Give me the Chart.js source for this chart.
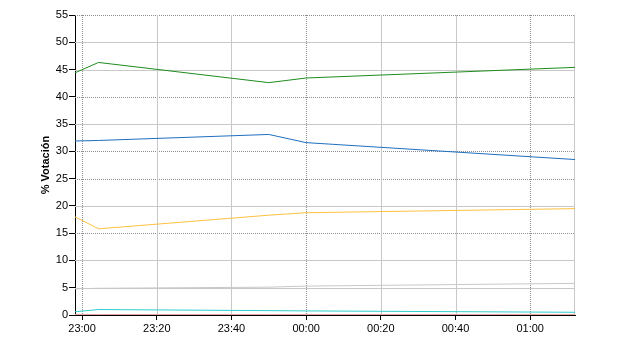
<!DOCTYPE html>
<html>
<head>
<meta charset="utf-8">
<script src="https://cdn.jsdelivr.net/npm/chart.js@4/dist/chart.umd.min.js"></script>
<style>
html,body{margin:0;padding:0;background:#fff;}
#wrap{width:640px;height:350px;position:relative;}
</style>
</head>
<body>
<div id="wrap"><canvas id="c" width="640" height="350"></canvas></div>
<script>
// Minutes after 23:00
const times = [-1.9, 4.4, 50, 60, 132];
const green  = [44.4, 46.3, 42.6, 43.45, 45.4];
const blue   = [31.9, 32.0, 33.1, 31.6, 28.5];
const yellow = [18.0, 15.8, 18.3, 18.75, 19.5];
const gray   = [4.8, 4.9, 5.1, 5.3, 5.8];
const cyan   = [0.6, 1.0, 0.8, 0.75, 0.5];
const red    = [0.1, 0.1, 0.1, 0.1, 0.1];

const xTickValues = [0, 20, 40, 60, 80, 100, 120];
const xTickLabels = ['23:00', '23:20', '23:40', '00:00', '00:20', '00:40', '01:00'];
const yTickValues = [0, 5, 10, 15, 20, 25, 30, 35, 40, 45, 50, 55];

const dottedX = [0, 60, 120];
const dottedY = [55, 40, 30, 25, 15];

function pts(vals) { return vals.map((v, i) => ({ x: times[i], y: v })); }

const gridPlugin = {
  id: 'customGrid',
  beforeDatasetsDraw(chart) {
    const ctx = chart.ctx, a = chart.chartArea;
    const xs = chart.scales.x, ys = chart.scales.y;
    ctx.save();
    ctx.lineWidth = 1;
    yTickValues.forEach(v => {
      if (v === 0) return;
      const y = Math.round(ys.getPixelForValue(v)) + 0.5;
      const dotted = dottedY.includes(v);
      ctx.strokeStyle = dotted ? '#8c8c8c' : '#c8c8c8';
      ctx.setLineDash(dotted ? [1, 1] : []);
      ctx.beginPath(); ctx.moveTo(a.left, y); ctx.lineTo(a.right, y); ctx.stroke();
    });
    xTickValues.forEach(v => {
      const x = Math.round(xs.getPixelForValue(v)) + 0.5;
      const dotted = dottedX.includes(v);
      ctx.strokeStyle = dotted ? '#8c8c8c' : '#c8c8c8';
      ctx.setLineDash(dotted ? [1, 1] : []);
      ctx.beginPath(); ctx.moveTo(x, a.top); ctx.lineTo(x, a.bottom); ctx.stroke();
    });
    ctx.setLineDash([]);
    ctx.strokeStyle = '#c8c8c8';
    const rx = Math.round(a.right) - 0.5;
    ctx.beginPath(); ctx.moveTo(rx, a.top); ctx.lineTo(rx, a.bottom); ctx.stroke();
    ctx.restore();
  }
};

function ds(data, color) {
  return { data: pts(data), borderColor: color, borderWidth: 1, pointRadius: 0, tension: 0, fill: false };
}

new Chart(document.getElementById('c'), {
  type: 'line',
  data: {
    datasets: [
      ds(red, '#e8a0a0'),
      ds(cyan, '#30cccc'),
      ds(gray, '#c8c8c8'),
      ds(yellow, '#ffc040'),
      ds(blue, '#1f6ebf'),
      ds(green, '#1e8c1e')
    ]
  },
  options: {
    responsive: false,
    animation: false,
    layout: { padding: { left: 0, top: 15, right: 65, bottom: 0 } },
    plugins: { legend: { display: false }, tooltip: { enabled: false } },
    scales: {
      x: {
        type: 'linear',
        min: -1.9,
        max: 132,
        afterBuildTicks: s => { s.ticks = xTickValues.map(v => ({ value: v })); },
        afterFit: s => { s.height = 35; },
        ticks: {
          autoSkip: false, maxRotation: 0, padding: 2, color: '#000',
          font: { family: 'Liberation Sans, Arial, sans-serif', size: 11 },
          callback: v => xTickLabels[xTickValues.indexOf(v)]
        },
        grid: { drawOnChartArea: false, drawTicks: true, tickLength: 5, tickColor: '#000', color: '#000' },
        border: { display: true, color: '#000', width: 1 }
      },
      y: {
        min: 0,
        max: 55,
        afterBuildTicks: s => { s.ticks = yTickValues.map(v => ({ value: v })); },
        afterFit: s => { s.width = 75; },
        ticks: {
          padding: 1, color: '#000',
          font: { family: 'Liberation Sans, Arial, sans-serif', size: 11 }
        },
        grid: { drawOnChartArea: false, drawTicks: true, tickLength: 6, tickColor: '#000', color: '#000' },
        border: { display: true, color: '#000', width: 1 },
        title: {
          display: true, text: '% Votación', color: '#000',
          font: { family: 'Liberation Sans, Arial, sans-serif', size: 11, weight: 'bold' },
          padding: { top: 39, bottom: 0 }
        }
      }
    }
  },
  plugins: [gridPlugin]
});
</script>
</body>
</html>
